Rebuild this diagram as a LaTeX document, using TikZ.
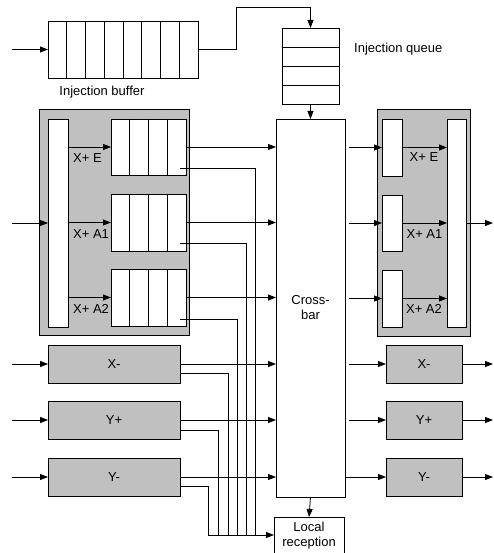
\documentclass[tikz,border=0pt]{standalone}
\usepackage{fontspec}
\setmainfont{Liberation Sans}
\usetikzlibrary{arrows.meta,calc}
\definecolor{boxgray}{HTML}{C0C0C0}
\tikzset{
 wire/.style={line width=0.8pt},
 arr/.style={line width=0.8pt,-{Triangle[length=8pt,width=6pt]}},
 box/.style={draw, line width=0.9pt, inner sep=0pt, outer sep=0pt, anchor=north west, font=\fontsize{13}{15}\selectfont, align=center},
 gbox/.style={box, fill=boxgray},
 wbox/.style={box, fill=white},
 lbl/.style={font=\fontsize{13}{15}\selectfont, inner sep=0pt}
}
\begin{document}
\begin{tikzpicture}[x=1pt,y=-1pt]
\useasboundingbox (0,0) rectangle (494,553);
% big gray containers
\node[gbox, minimum width=150, minimum height=226] (lgray) at (39,109) {};
\node[gbox, minimum width=93, minimum height=227] (rgray) at (377,109) {};
% injection
\node[wbox, minimum width=150, minimum height=57] (buf) at (48,21) {};
\foreach \i in {1,...,7} \draw[wire] ($(buf.north west)!\i/8!(buf.north east)$) -- ($(buf.south west)!\i/8!(buf.south east)$);
\node[wbox, minimum width=57, minimum height=76] (queue) at (282,28) {};
\foreach \i in {1,...,3} \draw[wire] ($(queue.north west)!\i/4!(queue.south west)$) -- ($(queue.north east)!\i/4!(queue.south east)$);
\node[lbl] (lbuf) at (102,92) {Injection buffer};
\node[lbl, anchor=west] (lqueue) at (354,49) {Injection queue};
% crossbar & local reception
\node[wbox, minimum width=69, minimum height=378] (xbar) at (276,119) {Cross-\\bar};
\node[wbox, minimum width=70, minimum height=37] (loc) at (274,517) {Local\\reception};
% left X+ structure
\node[wbox, minimum width=20, minimum height=208] (lbar) at (48,119) {};
\node[wbox, minimum width=75, minimum height=56] (qE) at (111,119) {};
\node[wbox, minimum width=75, minimum height=57] (qA1) at (111,194) {};
\node[wbox, minimum width=75, minimum height=57] (qA2) at (111,269) {};
\foreach \q in {qE,qA1,qA2}
  \foreach \i in {1,...,3} \draw[wire] ($(\q.north west)!\i/4!(\q.north east)$) -- ($(\q.south west)!\i/4!(\q.south east)$);
\node[lbl, anchor=west] (lE) at (73,158) {X+ E};
\node[lbl, anchor=west] (lA1) at (73,234) {X+ A1};
\node[lbl, anchor=west] (lA2) at (73,309) {X+ A2};
% left other ports
\node[gbox, minimum width=132, minimum height=38] (xm) at (48,345) {X-};
\node[gbox, minimum width=132, minimum height=38] (yp) at (48,401) {Y+};
\node[gbox, minimum width=132, minimum height=38] (ym) at (48,458) {Y-};
% right X+ structure
\node[wbox, minimum width=20, minimum height=57] (rE) at (382,119) {};
\node[wbox, minimum width=20, minimum height=56] (rA1) at (382,195) {};
\node[wbox, minimum width=20, minimum height=57] (rA2) at (382,270) {};
\node[wbox, minimum width=19, minimum height=208] (rbar) at (447,119) {};
\node[lbl] (rlE) at (424,157) {X+ E};
\node[lbl] (rlA1) at (424.5,234) {X+ A1};
\node[lbl] (rlA2) at (424,309) {X+ A2};
% right other ports
\node[gbox, minimum width=76, minimum height=38] (rxm) at (386,345) {X-};
\node[gbox, minimum width=76, minimum height=38] (ryp) at (386,401) {Y+};
\node[gbox, minimum width=76, minimum height=38] (rym) at (386,458) {Y-};

% coordinates
\coordinate (inB) at (12,49.5);
\coordinate (bendA) at (236,7);
\coordinate (inL) at (12,223);
\coordinate (inXm) at (12,364);
\coordinate (inYp) at (12,420);
\coordinate (inYm) at (12,477);
\coordinate (busL) at (208,535);
\coordinate (qE2) at (180,168);
\coordinate (qA12) at (180,243);
\coordinate (qA22) at (180,319);
\coordinate (v1) at (255,535);
\coordinate (v2) at (246,535);
\coordinate (v3) at (237.5,535);
\coordinate (v4) at (228,535);
\coordinate (v5) at (218,535);
\coordinate (outR) at (493,223);
\coordinate (outXm) at (493,364);
\coordinate (outYp) at (493,420);
\coordinate (outYm) at (493,477);

% injection connectors
\draw[arr] (inB) -- (buf.west);
\draw[arr] (buf.east) -| (bendA) -| (queue.north);
\draw[arr] (queue.south) -- (xbar.north);
\draw[arr] (xbar.south) -- (loc.north);

% left inputs
\draw[arr] (inL) -- (lbar.west);
\draw[arr] (inXm) -- (xm.west);
\draw[arr] (inYp) -- (yp.west);
\draw[arr] (inYm) -- (ym.west);

% demux to queues
\draw[arr] (lbar.east |- qE.west) -- (qE.west);
\draw[arr] (lbar.east |- qA1.west) -- (qA1.west);
\draw[arr] (lbar.east |- qA2.west) -- (qA2.west);

% queue outputs to crossbar
\draw[arr] (qE.east) -- (xbar.west |- qE.east);
\draw[arr] (qA1.east) -- (xbar.west |- qA1.east);
\draw[arr] (qA2.east) -- (xbar.west |- qA2.east);
\draw[arr] (xm.east) -- (xbar.west |- xm.east);
\draw[arr] (yp.east) -- (xbar.west |- yp.east);
\draw[arr] (ym.east) -- (xbar.west |- ym.east);

% second outputs to local reception bus
\draw[wire] (qE2) -| (v1);
\draw[wire] (qA12) -| (v2);
\draw[wire] (qA22) -| (v3);
\draw[wire] ($(xm.east)+(0,9)$) -| (v4);
\draw[wire] ($(yp.east)+(0,10)$) -| (v5);
\draw[wire] ($(ym.east)+(0,9)$) -| (busL);
\draw[arr] (busL) -- (busL -| loc.west);

% crossbar outputs
\draw[arr] ($(xbar.east |- rE.west)+(4,0)$) -- (rE.west);
\draw[arr] ($(xbar.east |- rA1.west)+(4,0)$) -- (rA1.west);
\draw[arr] ($(xbar.east |- rA2.west)+(4,0)$) -- (rA2.west);
\draw[arr] (rE.east) -- (rE.east -| rbar.west);
\draw[arr] (rA1.east) -- (rA1.east -| rbar.west);
\draw[arr] (rA2.east) -- (rA2.east -| rbar.west);
\draw[arr] (rbar.east |- outR) -- (outR);
\draw[arr] ($(xbar.east |- rxm.west)+(4,0)$) -- (rxm.west);
\draw[arr] ($(xbar.east |- ryp.west)+(4,0)$) -- (ryp.west);
\draw[arr] (xbar.east |- rym.west) -- (rym.west);
\draw[arr] (rxm.east) -- (outXm);
\draw[arr] (ryp.east) -- (outYp);
\draw[arr] (rym.east) -- (outYm);
\end{tikzpicture}
\end{document}
